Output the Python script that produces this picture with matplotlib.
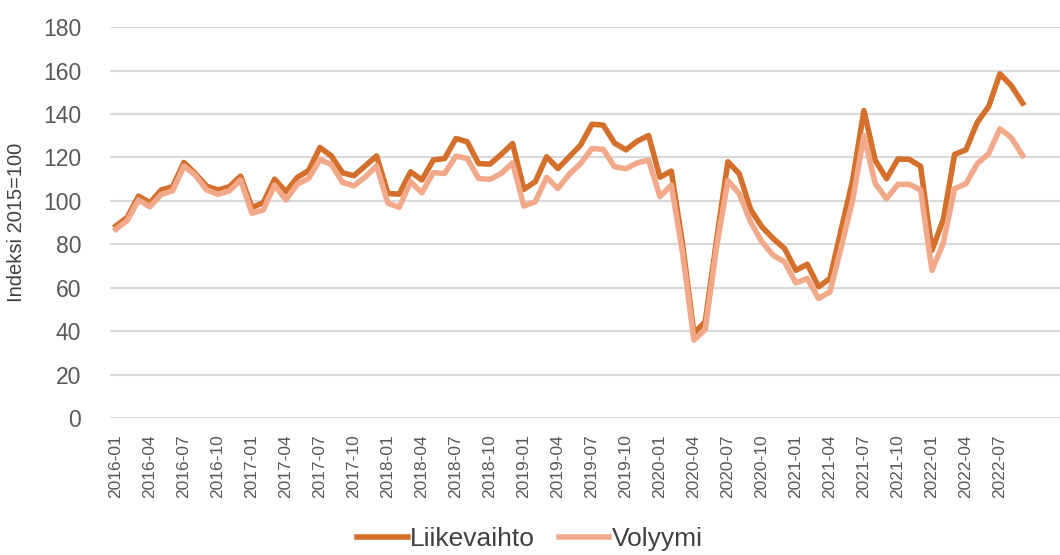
import numpy as np
import matplotlib
matplotlib.use("Agg")
import matplotlib.pyplot as plt

plt.rcParams['font.family'] = ['Liberation Sans', 'DejaVu Sans']

# monthly index 2016-01 .. 2022-09
months = [f"{y}-{m:02d}" for y in range(2016, 2023) for m in range(1, 13)][:81]

liikevaihto = [88.4, 92.4, 102.2, 99.1, 105.0, 106.5, 117.7, 112.6, 106.8, 105.0, 106.5, 111.4,
               97.0, 99.1, 110.0, 104.2, 110.8, 113.9, 124.6, 120.7, 112.9, 111.6, 116.1, 120.7,
               103.4, 103.1, 113.4, 109.6, 118.8, 119.5, 128.7, 127.2, 117.2, 116.9, 121.4, 126.4,
               105.3, 108.8, 120.3, 114.9, 120.3, 125.7, 135.3, 134.9, 126.6, 123.5, 127.5, 130.1,
               110.9, 113.7, 80.0, 38.9, 44.4, 82.0, 118.0, 112.5, 96.0, 88.0, 82.6, 78.0,
               68.0, 70.8, 60.4, 64.2, 86.9, 109.4, 141.6, 118.6, 110.2, 119.3, 119.1, 115.9,
               77.2, 91.3, 121.4, 123.5, 136.2, 143.4, 158.5, 153.1, 145.0]

volyymi = [86.9, 91.0, 100.4, 97.3, 103.0, 104.6, 116.0, 111.9, 105.0, 103.0, 104.6, 109.6,
           94.3, 95.8, 107.3, 100.4, 107.7, 110.3, 119.0, 116.8, 108.5, 106.9, 111.0, 116.1,
           98.9, 97.0, 108.8, 103.7, 113.0, 112.6, 120.6, 119.5, 110.3, 109.9, 112.6, 117.5,
           97.6, 99.6, 110.8, 105.7, 112.3, 117.2, 124.1, 123.7, 115.7, 114.8, 117.5, 118.8,
           101.9, 107.3, 76.0, 35.9, 40.8, 78.8, 109.4, 103.3, 90.3, 81.1, 74.9, 71.9,
           62.2, 64.2, 55.0, 58.1, 78.8, 100.2, 130.1, 107.9, 101.0, 107.6, 107.6, 105.1,
           68.0, 80.6, 105.6, 107.9, 117.1, 121.7, 133.2, 129.1, 120.9]

x = np.arange(len(months))

fig = plt.figure(figsize=(10.6, 5.55), dpi=100)
ax = fig.add_axes([0.104, 0.247, 0.896, 0.704])

ax.plot(x, liikevaihto, color='#D46F2C', lw=4, label='Liikevaihto', solid_joinstyle='round')
ax.plot(x, volyymi, color='#F2A98A', lw=4, label='Volyymi', solid_joinstyle='round')

ax.set_xlim(-0.5, 83.3)
ax.set_ylim(0, 180)
ax.set_yticks(np.arange(0, 181, 20))
ax.set_xticks(x[::3])
ax.set_xticklabels(months[::3], rotation=90, fontsize=12.5, color='#595959')
ax.tick_params(axis='y', labelsize=16.5, colors='#595959', length=0, pad=21)
ax.tick_params(axis='x', length=0, pad=12)

ax.grid(axis='y', color='#D9D9D9', lw=1.5)
ax.set_axisbelow(True)
for s in ax.spines.values():
    s.set_visible(False)

ax.set_ylabel('Indeksi 2015=100', fontsize=14.5, color='#404040', labelpad=12)

fig.legend(loc='center', bbox_to_anchor=(0.5, 0.028), ncol=2, frameon=False,
           fontsize=19, handlelength=1.9, handletextpad=0.1, columnspacing=0.9,
           labelcolor='#404040')

fig.savefig('out.png', dpi=100)
